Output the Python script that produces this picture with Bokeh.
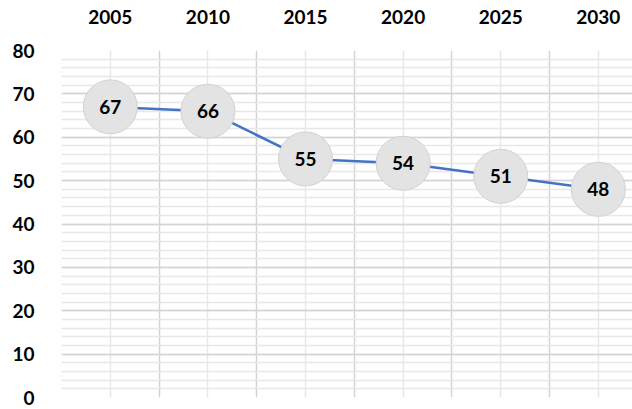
from bokeh.plotting import figure
from bokeh.models import ColumnDataSource, Range1d, FixedTicker
from bokeh.core.properties import value
from bokeh.embed import file_html
from bokeh.resources import INLINE

years = ["2005", "2010", "2015", "2020", "2025", "2030"]
values = [67, 66, 55, 54, 51, 48]
y_ticks = [0, 10, 20, 30, 40, 50, 60, 70, 80]

idx = list(range(len(years)))
src = ColumnDataSource(dict(x=idx, y=values, label=[str(v) for v in values]))

FONT = "Lato"

p = figure(width=632, height=409, output_backend="svg", toolbar_location=None,
           x_axis_location="above", x_range=Range1d(-0.5, 5.35), y_range=Range1d(0, 80),
           min_border_left=61, min_border_top=50, min_border_right=0, min_border_bottom=12)
p.outline_line_color = None
p.background_fill_color = "white"

# axes
p.xaxis.ticker = FixedTicker(ticks=idx)
p.xaxis.major_label_overrides = {i: y for i, y in zip(idx, years)}
p.yaxis.ticker = FixedTicker(ticks=y_ticks)
for ax in (p.xaxis[0], p.yaxis[0]):
    ax.axis_line_color = None
    ax.major_tick_line_color = None
    ax.minor_tick_line_color = None
    ax.major_label_text_font = FONT
    ax.major_label_text_font_style = "bold"
    ax.major_label_text_font_size = "19px"
    ax.major_label_text_color = "#000000"
p.xaxis.major_label_standoff = 21
p.yaxis.major_label_standoff = 21

# grids
p.xgrid.ticker = FixedTicker(ticks=[i - 0.5 for i in idx], minor_ticks=idx)
p.xgrid.grid_line_color = "#d4d4d4"
p.xgrid.grid_line_width = 1.5
p.xgrid.minor_grid_line_color = "#e8e8e8"
p.xgrid.minor_grid_line_width = 1.5
p.ygrid.ticker = FixedTicker(ticks=y_ticks, minor_ticks=list(range(0, 81, 2)))
p.ygrid.grid_line_color = "#d4d4d4"
p.ygrid.grid_line_width = 1.5
p.ygrid.minor_grid_line_color = "#e8e8e8"
p.ygrid.minor_grid_line_width = 1.5

p.line("x", "y", source=src, line_color="#4472C4", line_width=2.5)
p.scatter("x", "y", source=src, size=54, fill_color="#e3e3e3", line_color="#d2d2d2", line_width=1)
p.text("x", "y", text="label", source=src, text_align="center", text_baseline="middle",
       text_font=value(FONT), text_font_style="bold", text_font_size="19px", text_color="#000000")

open("out.html", "w").write(file_html(p, INLINE))
